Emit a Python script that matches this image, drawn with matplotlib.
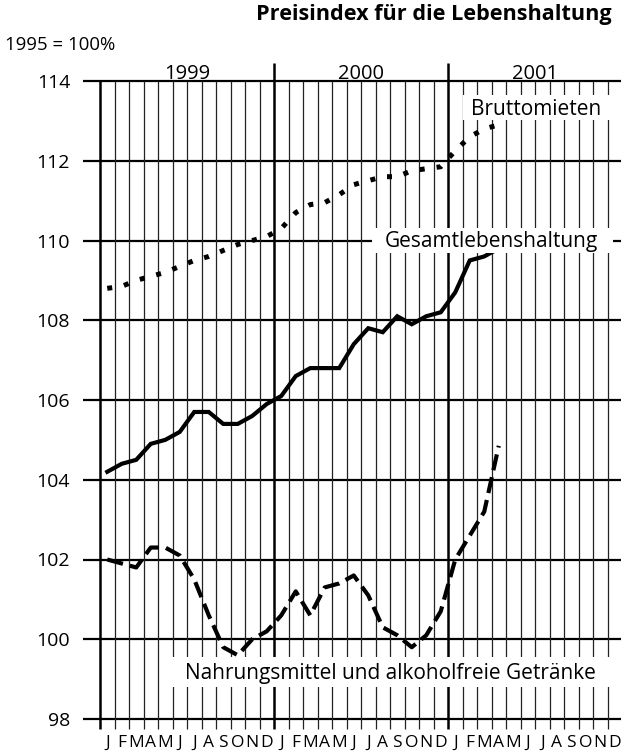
import matplotlib
matplotlib.use("Agg")
import matplotlib.pyplot as plt
from matplotlib.patches import Rectangle
import numpy as np

plt.rcParams['font.family'] = ['Open Sans', 'DejaVu Sans']

# ---- data (monthly, Jan 1999 .. Apr 2001) ----
months = ["J", "F", "M", "A", "M", "J", "J", "A", "S", "O", "N", "D"]
years = ["1999", "2000", "2001"]
yticks = [98, 100, 102, 104, 106, 108, 110, 112, 114]

gesamt = [104.2, 104.4, 104.5, 104.9, 105.0, 105.2, 105.7, 105.7, 105.4, 105.4, 105.6, 105.9,
          106.1, 106.6, 106.8, 106.8, 106.8, 107.4, 107.8, 107.7, 108.1, 107.9, 108.1, 108.2,
          108.7, 109.5, 109.6, 109.8]
brutto = [108.8, 108.85, 109.0, 109.1, 109.2, 109.35, 109.5, 109.6, 109.75, 109.9, 110.0, 110.1,
          110.3, 110.7, 110.9, 110.95, 111.15, 111.4, 111.5, 111.6, 111.6, 111.75, 111.8, 111.85,
          112.25, 112.6, 112.8, 112.9]
nahrung = [102.0, 101.9, 101.8, 102.3, 102.3, 102.1, 101.5, 100.6, 99.8, 99.6, 100.0, 100.2,
           100.6, 101.2, 100.6, 101.3, 101.4, 101.6, 101.1, 100.3, 100.1, 99.8, 100.1, 100.7,
           102.0, 102.6, 103.2, 104.85]

W, H = 621, 756
fig = plt.figure(figsize=(W / 100, H / 100), dpi=100)
ax = fig.add_axes([100 / W, 1 - 719 / H, 522 / W, (719 - 81) / H])
ax.set_xlim(0, 36)
ax.set_ylim(98, 114)
for s in ax.spines.values():
    s.set_visible(False)

px_y = (719 - 81) / 16.0   # pixels per unit
px_x = 522 / 36.0          # pixels per month


def dx(p):
    return (p - 100) / px_x


def dy(p):
    return 98 + (719 - p) / px_y


# horizontal grid lines (extend left as ticks)
for v in yticks:
    ax.plot([dx(83), 36], [v, v], color='black', lw=1.6, clip_on=False, zorder=1,
            solid_capstyle='butt')

y_below = dy(729)
# thin monthly lines
for k in range(1, 36):
    if k % 12 == 0:
        continue
    ax.plot([k, k], [y_below, 114], color='#222222', lw=0.9, clip_on=False, zorder=1,
            solid_capstyle='butt')
# year lines
ax.plot([0, 0], [y_below, 114], color='black', lw=1.8, clip_on=False, zorder=1,
        solid_capstyle='butt')
for k in (12, 24):
    ax.plot([k, k], [y_below, dy(63)], color='black', lw=1.8, clip_on=False, zorder=1,
            solid_capstyle='butt')

x = np.arange(len(gesamt)) + 0.5
ax.plot(x, gesamt, color='black', lw=3.0, zorder=3, solid_joinstyle='miter')
ax.plot(x[:len(brutto)], brutto, color='black', lw=3.6, zorder=3,
        linestyle=(0, (1.0, 2.4)), dash_capstyle='butt')
ax.plot(x[:len(nahrung)], nahrung, color='black', lw=3.0, zorder=3,
        linestyle=(0, (3.9, 1.7)), dash_capstyle='butt')

# white label boxes (pixel extents from the reference)
boxes = [(463, 95, 610, 120), (372, 228, 613, 253), (168, 657, 612, 687)]
for x0, y0, x1, y1 in boxes:
    ax.add_patch(Rectangle((dx(x0), dy(y1)), dx(x1) - dx(x0), dy(y0) - dy(y1),
                           facecolor='white', edgecolor='none', zorder=4, clip_on=False))

ax.text(dx(536), dy(115), "Bruttomieten", ha='center', va='baseline', fontsize=15, zorder=5)
ax.text(dx(491), dy(247.5), "Gesamtlebenshaltung", ha='center', va='baseline', fontsize=15,
        zorder=5)
ax.text(dx(390.5), dy(679.5), "Nahrungsmittel und alkoholfreie Getränke", ha='center',
        va='baseline', fontsize=15, zorder=5)

# y labels
ax.set_xticks([])
ax.set_yticks(yticks)
ax.set_yticklabels([str(v) for v in yticks], fontsize=14)
ax.tick_params(axis='y', length=0, pad=21.5)

# year labels
for i, yr in enumerate(years):
    ax.text(12 * i + 6, dy(79), yr, ha='center', va='baseline', fontsize=14.5,
            clip_on=False)

# month labels
for i in range(36):
    ax.text(i + 0.5, dy(747), months[i % 12], ha='center', va='baseline',
            fontsize=12.5, clip_on=False)

fig.text(612 / W, 1 - 20 / H, "Preisindex für die Lebenshaltung", ha='right', va='baseline',
         fontsize=15.6, fontweight='bold')
fig.text(5 / W, 1 - 50 / H, "1995 = 100%", ha='left', va='baseline', fontsize=13.4)

fig.savefig("out.png", dpi=100)
